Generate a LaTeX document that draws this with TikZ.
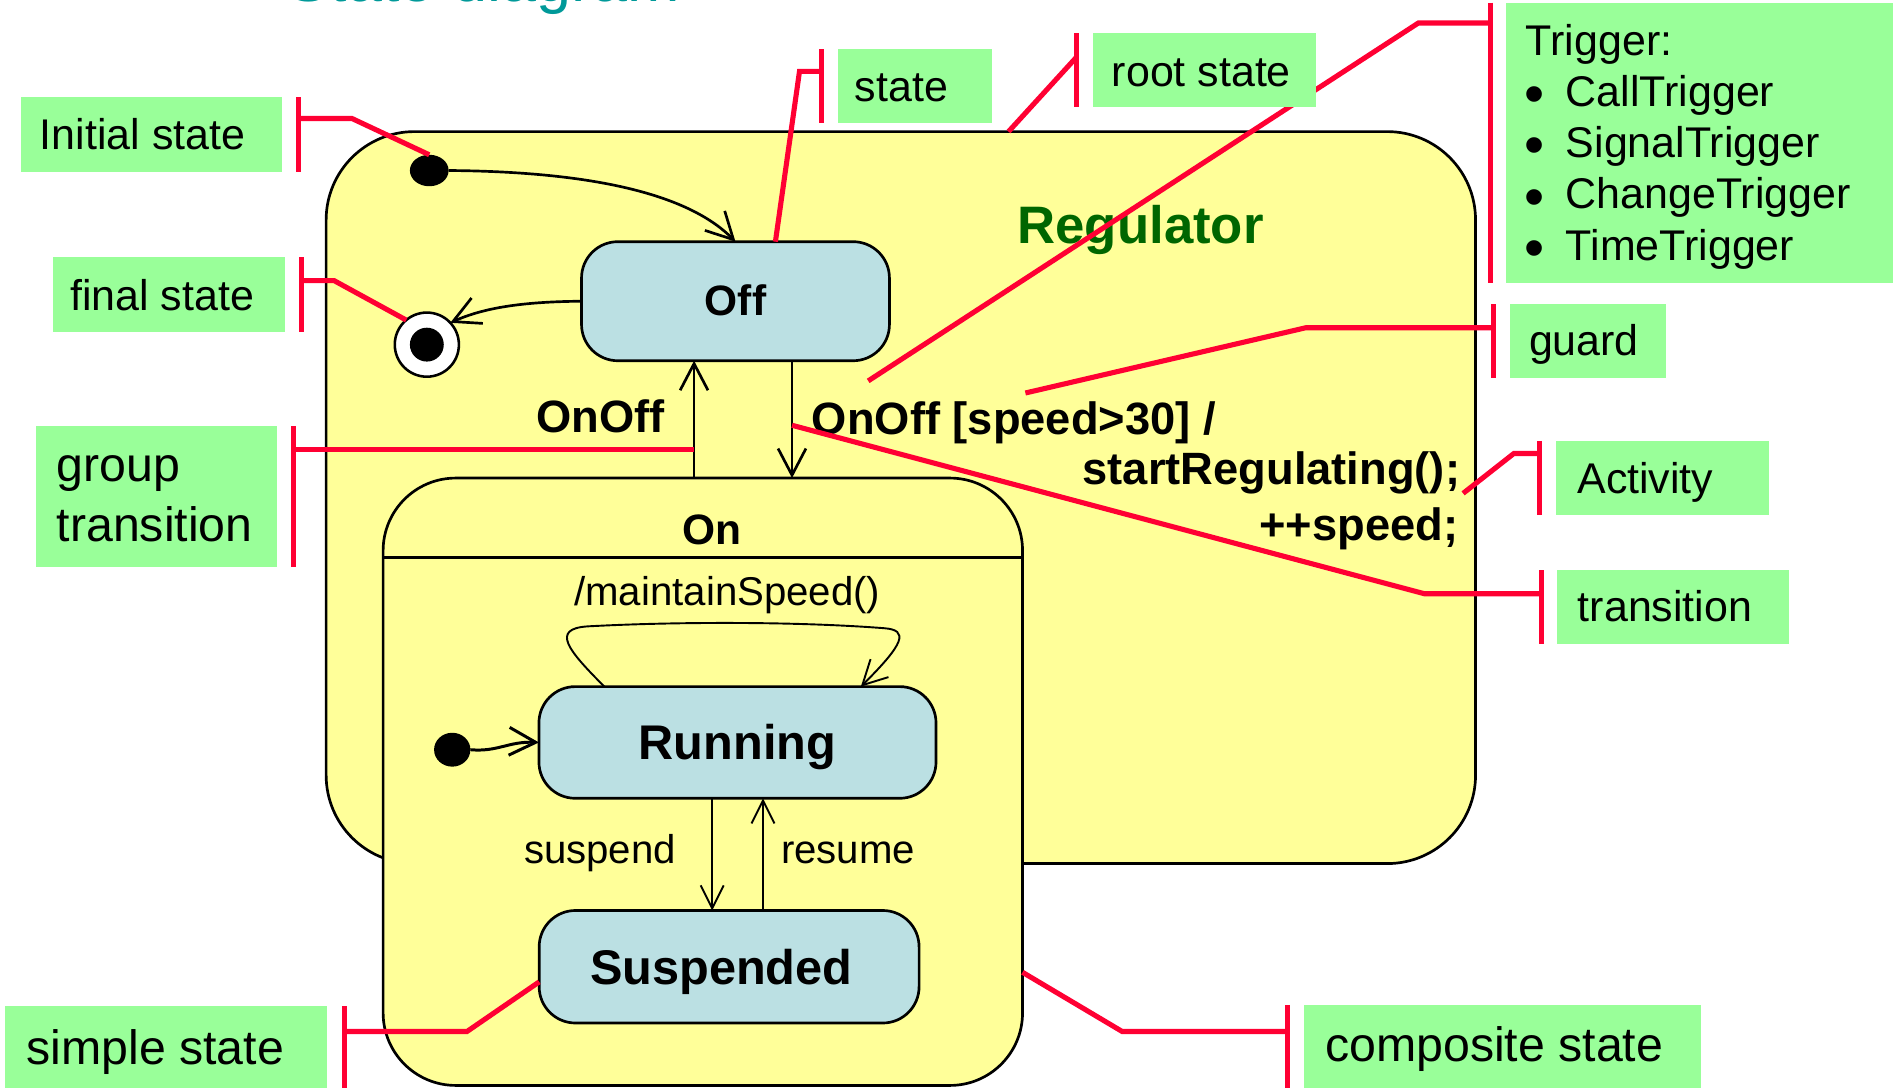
\documentclass[tikz,border=0pt]{standalone}
\usepackage{fontspec}
\setmainfont{Liberation Sans}
\usetikzlibrary{arrows.meta,shapes.geometric,calc}

\definecolor{regyellow}{RGB}{255,255,153}
\definecolor{stateblue}{RGB}{187,224,227}
\definecolor{notegreen}{RGB}{153,255,153}
\definecolor{calloutred}{RGB}{255,0,51}
\definecolor{namegreen}{RGB}{0,102,0}
\definecolor{titleteal}{RGB}{0,153,153}

\pgfdeclarelayer{notes}
\pgfsetlayers{main,notes}

\begin{document}
\begin{tikzpicture}[x=0.01cm, y=-0.01cm,
  every node/.style={inner sep=0pt, outer sep=0pt},
  composite/.style={draw=black, line width=0.63pt, fill=regyellow},
  simplestate/.style={draw=black, line width=0.63pt, fill=stateblue, rounded corners=0.3cm},
  statename/.style={font=\bfseries\fontsize{11.45}{13}\selectfont, text height=0.29cm, text depth=0pt},
  pseudo/.style={fill=black, ellipse},
  tr/.style={draw=black, line width=0.63pt, -{Straight Barb[length=0.22cm, width=0.23cm]}},
  trthin/.style={draw=black, line width=0.45pt, -{Straight Barb[length=0.19cm, width=0.19cm]}},
  trlabel/.style={font=\bfseries\fontsize{10.65}{12}\selectfont},
  evlabel/.style={font=\fontsize{9.45}{11}\selectfont},
  note/.style={fill=notegreen, anchor=north west},
  notetext/.style={anchor=base west, font=\fontsize{10.1}{12}\selectfont},
  notetextbig/.style={anchor=base west, font=\fontsize{11.35}{13}\selectfont},
  bullettext/.style={anchor=base west, font=\fontsize{13.5}{14}\selectfont},
  callout/.style={draw=calloutred, line width=1.2pt},
]
\useasboundingbox (0,0) rectangle (1568,899);
\clip (0,0) rectangle (1568,899);

% heading
\node[anchor=base west, text=titleteal, font=\fontsize{14.8}{17}\selectfont] (title) at (238,1.5) {State diagram};

% root state
\node[composite, rounded corners=0.73cm, minimum width=9.5cm, minimum height=6.05cm] (reg) at (745,411.5) {};
\node[anchor=base west, text=namegreen, font=\bfseries\fontsize{12.4}{14}\selectfont] (regname) at (841.5,201) {Regulator};

% Off state, initial and final pseudo states
\node[simplestate, statename, font=\bfseries\fontsize{10}{12}\selectfont, text height=0.24cm,
      minimum width=2.545cm, minimum height=0.984cm] (off) at (608.25,249.1) {Off};
\node[pseudo, minimum width=0.32cm, minimum height=0.26cm] (init1) at (355,141) {};
\node[circle, draw=black, line width=0.6pt, fill=white, minimum size=0.53cm] (final) at (353,285) {};
\node[circle, fill=black, minimum size=0.28cm] (finaldot) at (final.center) {};

% On composite state
\node[composite, rounded corners=0.6cm, minimum width=5.285cm, minimum height=5.02cm] (on) at (581.25,646.5) {};
\draw[line width=0.63pt] ([yshift=-0.655cm]on.north west) -- ([yshift=-0.655cm]on.north east);
\node[anchor=base, font=\bfseries\fontsize{10}{12}\selectfont] (onname) at (588.5,450.6) {On};

\node[simplestate, statename, minimum width=3.282cm, minimum height=0.923cm] (run) at (609.9,614) {Running};
\node[simplestate, statename, minimum width=3.14cm, minimum height=0.93cm] (susp) at (603,799.5) {\hspace*{-0.13cm}Suspended};
\node[pseudo, minimum width=0.30cm, minimum height=0.28cm] (init2) at (374,620) {};

% vertical transition positions
\coordinate (xup) at (574,0);
\coordinate (xdown) at (655,0);
\coordinate (xsus) at (589,0);
\coordinate (xres) at (631,0);

% transitions
\draw[tr] (init1.east) .. controls (501,142) and (573,164) .. (off.north);
\draw[tr] (off.west) .. controls (430,249.5) and (399,255) .. (final.43);
\draw[tr] (xup |- on.north) -- (xup |- off.south);
\draw[tr] (xdown |- off.south) -- (xdown |- on.north);
\draw[tr, line width=0.7pt] (init2.east) .. controls (412,622) and (420,613) .. (run.west);
\draw[trthin] (xsus |- run.south) -- (xsus |- susp.north);
\draw[trthin] (xres |- susp.north) -- (xres |- run.south);
\draw[trthin, -{Straight Barb[length=0.2cm, width=0.21cm]}]
  ([xshift=-1.1cm]run.north) .. controls (470,538) and (455,520) .. (486,518)
  .. controls (560,514) and (660,514) .. (731,519.5)
  .. controls (752,521) and (748,532) .. ([xshift=1.02cm]run.north);

% transition labels
\node[trlabel, anchor=base east] (grplbl) at (549.5,358) {OnOff};
\node[trlabel, anchor=base west] (trlbl1) at (671.5,359) {OnOff [speed>30] /};
\node[trlabel, anchor=base east] (trlbl2) at (1207.5,401) {startRegulating();};
\node[trlabel, anchor=base east] (trlbl3) at (1206,447) {++speed;};
\node[evlabel, anchor=base] (looplbl) at (601.5,501) {/maintainSpeed()};
\node[evlabel, anchor=base east] (suslbl) at (559,714) {suspend};
\node[evlabel, anchor=base west] (reslbl) at (646,714) {resume};

% annotation boxes
\begin{pgfonlayer}{notes}
\node[note, minimum width=2.155cm, minimum height=0.615cm] (nInit) at (17.5,80.5) {};
\node[note, minimum width=1.92cm, minimum height=0.616cm] (nFinal) at (43.6,212.8) {};
\node[note, minimum width=1.99cm, minimum height=1.163cm] (nGroup) at (30,352.4) {};
\node[note, minimum width=2.666cm, minimum height=0.70cm] (nSimple) at (4,832) {};
\node[note, minimum width=1.273cm, minimum height=0.612cm] (nState) at (692.7,40.8) {};
\node[note, minimum width=1.84cm, minimum height=0.612cm] (nRoot) at (904,27.6) {};
\node[note, minimum width=3.197cm, minimum height=2.316cm] (nTrig) at (1245.8,2.2) {};
\node[note, minimum width=1.29cm, minimum height=0.614cm] (nGuard) at (1249,251.4) {};
\node[note, minimum width=1.76cm, minimum height=0.615cm] (nAct) at (1287,364.5) {};
\node[note, minimum width=1.915cm, minimum height=0.61cm] (nTrans) at (1288,471.6) {};
\node[note, minimum width=3.283cm, minimum height=0.71cm] (nComp) at (1078.5,831) {};

\node[notetext] (tInit) at (33,124) {Initial state};
\node[notetext] (tFinal) at (58,256.5) {final state};
\node[notetextbig] (tGroup1) at (47,398) {group};
\node[notetextbig] (tGroup2) at (47,447.5) {transition};
\node[notetextbig] (tSimple) at (22,880) {simple state};
\node[notetext] (tState) at (707,84) {state};
\node[notetext] (tRoot) at (919.5,71.7) {root state};
\node[notetext] (tTrig) at (1262,45.5) {Trigger:};
\node[bullettext] (tB1) at (1261,94) {\textbullet};
\node[bullettext] (tB2) at (1261,136.4) {\textbullet};
\node[bullettext] (tB3) at (1261,178.8) {\textbullet};
\node[bullettext] (tB4) at (1261,221.2) {\textbullet};
\node[notetext] (tCall) at (1295,87.9) {CallTrigger};
\node[notetext] (tSignal) at (1295,130.3) {SignalTrigger};
\node[notetext] (tChange) at (1295,172.7) {ChangeTrigger};
\node[notetext] (tTime) at (1295,215.1) {TimeTrigger};
\node[notetext] (tGuard) at (1264.5,293.6) {guard};
\node[notetext] (tAct) at (1304.5,408) {Activity};
\node[notetext] (tTrans) at (1305,514) {transition};
\node[notetextbig] (tComp) at (1096,877.5) {composite state};
\end{pgfonlayer}

% targets of the callouts
\coordinate (trigpt) at (718,315);
\coordinate (guardpt) at (848,325);
\coordinate (actpt) at (1210,408);
\coordinate (transpt) at ($(xdown |- off.south)!0.55!(xdown |- on.north)$);

% callouts: a bar beside each box and a leader to the element
\draw[callout] ([xshift=0.135cm]nInit.north east) -- ([xshift=0.135cm]nInit.south east);
\draw[callout] ([xshift=0.135cm,yshift=-0.175cm]nInit.north east) -- ++(44.5,0) -- (init1.north);

\draw[callout] ([xshift=0.135cm]nFinal.north east) -- ([xshift=0.135cm]nFinal.south east);
\draw[callout] ([xshift=0.135cm,yshift=-0.192cm]nFinal.north east) -- ++(27,0) -- (final.130);

\draw[callout] ([xshift=0.135cm]nGroup.north east) -- ([xshift=0.135cm]nGroup.south east);
\coordinate (grpstart) at ([xshift=0.135cm,yshift=-0.196cm]nGroup.north east);
\draw[callout] (grpstart) -- (grpstart -| xup);

\draw[callout] ([xshift=0.14cm]nSimple.north east) -- ([xshift=0.14cm]nSimple.south east);
\draw[callout] ([xshift=0.14cm,yshift=-0.21cm]nSimple.north east) -- ++(101.5,0) -- ([yshift=-0.125cm]susp.west);

\draw[callout] ([xshift=-0.135cm]nState.north west) -- ([xshift=-0.135cm]nState.south west);
\draw[callout] ([xshift=-0.135cm,yshift=-0.182cm]nState.north west) -- ++(-18,0) -- ([xshift=0.33cm]off.north);

\draw[callout] ([xshift=-0.135cm]nRoot.north west) -- ([xshift=-0.135cm]nRoot.south west);
\draw[callout] ([xshift=-0.135cm,yshift=-0.194cm]nRoot.north west) -- ([xshift=0.89cm]reg.north);

\draw[callout] ([xshift=-0.135cm]nTrig.north west) -- ([xshift=-0.135cm]nTrig.south west);
\draw[callout] ([xshift=-0.135cm,yshift=-0.168cm]nTrig.north west) -- ++(-59.3,0) -- (trigpt);

\draw[callout] ([xshift=-0.135cm]nGuard.north west) -- ([xshift=-0.135cm]nGuard.south west);
\draw[callout] ([xshift=-0.135cm,yshift=-0.196cm]nGuard.north west) -- ++(-155.5,0) -- (guardpt);

\draw[callout] ([xshift=-0.135cm]nAct.north west) -- ([xshift=-0.135cm]nAct.south west);
\draw[callout] ([xshift=-0.135cm,yshift=-0.105cm]nAct.north west) -- ++(-21.5,0) -- (actpt);

\draw[callout] ([xshift=-0.135cm]nTrans.north west) -- ([xshift=-0.135cm]nTrans.south west);
\draw[callout] ([xshift=-0.135cm,yshift=-0.194cm]nTrans.north west) -- ++(-96.5,0) -- (transpt);

\draw[callout] ([xshift=-0.135cm]nComp.north west) -- ([xshift=-0.135cm]nComp.south west);
\draw[callout] ([xshift=-0.135cm,yshift=-0.22cm]nComp.north west) -- ++(-137,0) -- ([yshift=-1.575cm]on.east);
\end{tikzpicture}
\end{document}
